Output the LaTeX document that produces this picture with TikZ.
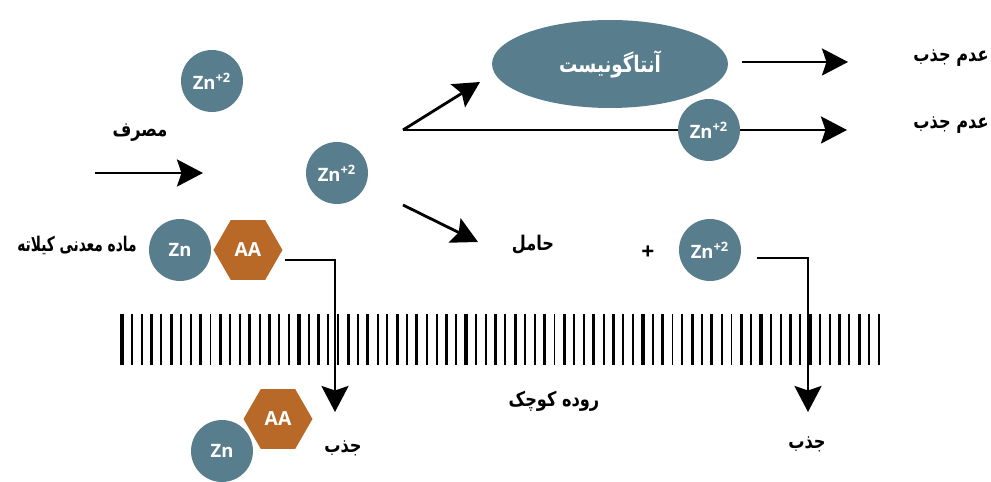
\documentclass[tikz,border=0pt]{standalone}
\usepackage{fontspec}
\setmainfont{Open Sans}
\newfontfamily\fa[Script=Arabic, FakeStretch=0.8]{DejaVu Sans}
\newfontfamily\fanarrow[Script=Arabic, FakeStretch=0.68]{DejaVu Sans}
\TeXXeTstate=1
\newcommand\fatext[1]{\beginR#1\endR}
\usetikzlibrary{shapes.geometric,arrows.meta,positioning}
\definecolor{ionblue}{RGB}{88,125,140}
\definecolor{aabrown}{RGB}{184,105,40}
\tikzset{
  ion/.style={circle, fill=ionblue, text=white, minimum size=1.24cm, inner sep=0pt,
    font=\fontsize{10.5}{12}\selectfont\bfseries},
  acid/.style={regular polygon, regular polygon sides=6, fill=aabrown, text=white,
    minimum size=1.38cm, inner sep=0pt, font=\fontsize{11}{13}\selectfont\bfseries},
  antag/.style={ellipse, fill=ionblue, text=white, minimum width=4.72cm,
    minimum height=1.76cm, inner sep=0pt, font=\fa\fontsize{13}{15}\selectfont\bfseries},
  farsi/.style={font=\fa\fontsize{11.5}{14}\selectfont\bfseries},
  flow/.style={-{Stealth[length=5.2mm,width=5.4mm,inset=0.9mm]}},
}
\begin{document}
\begin{tikzpicture}[x=0.02cm, y=-0.02cm, node distance=1.36cm, line width=1.6pt]
\useasboundingbox (0,0) rectangle (991,482);
% small intestine wall
\foreach \i in {0,...,77} {
  \pgfmathsetmacro\lw{mod(\i*7,5)<2 ? 1.8 : 1.1}
  \draw[line width=\lw pt, line cap=butt] ({122+\i*9.83},314) -- ++(0,51);
}
% intake
\node[ion] (zna) at (212,81) {Zn\textsuperscript{+2}};
\node[farsi] (use) at (140,133) {\fatext{مصرف}};
\coordinate (in0) at (95,173);
\coordinate (in1) at (203,173);
\draw[flow] (in0) -- (in1);
\node[ion] (znb) at (337,173) {Zn\textsuperscript{+2}};
\node[ion] (znc) at (180,250) {Zn};
\node[acid, right of=znc] (aac) {AA};
\node[farsi, font=\fanarrow\fontsize{11.5}{14}\selectfont\bfseries, anchor=east,
  inner sep=0pt] (chel) at (138,246) {\fatext{ماده معدنی کیلاته}};
% antagonist / not absorbed
\coordinate (fork) at (403,130);
\coordinate (up) at (480,82);
\draw[flow] (fork) -- (up);
\node[antag] (ant) at (610,64) {\fatext{آنتاگونیست}};
\coordinate (a0) at (742,62);
\coordinate (a1) at (848,62);
\draw[flow] (a0) -- (a1);
\node[farsi] (no1) at (951,58) {\fatext{عدم جذب}};
\coordinate (b1) at (847,130);
\draw[flow] (fork) -- (b1);
\node[ion] (znd) at (709,130) {Zn\textsuperscript{+2}};
\node[farsi] (no2) at (951,125) {\fatext{عدم جذب}};
% carrier
\coordinate (c0) at (403,205);
\coordinate (c1) at (478,242);
\draw[flow] (c0) -- (c1);
\node[farsi] (carrier) at (533,245) {\fatext{حامل}};
\node[font=\fontsize{13}{15}\selectfont\bfseries] (plus) at (648,253) {+};
\node[ion] (zne) at (710,250) {Zn\textsuperscript{+2}};
\coordinate (k3) at (757,258);
\coordinate (k4) at (808,412);
\draw[flow] (k3) -| (k4);
\node[farsi] (abs2) at (807,444) {\fatext{جذب}};
\node[farsi] (gut) at (554,401) {\fatext{روده کوچک}};
% chelate absorbed
\coordinate (k1) at (285,260);
\coordinate (k2) at (335,412);
\draw[flow] (k1) -| (k2);
\node[acid] (aad) at (278,419) {AA};
\node[ion] (znf) at (222,451) {Zn};
\node[farsi] (abs1) at (343,448) {\fatext{جذب}};
\end{tikzpicture}
\end{document}
